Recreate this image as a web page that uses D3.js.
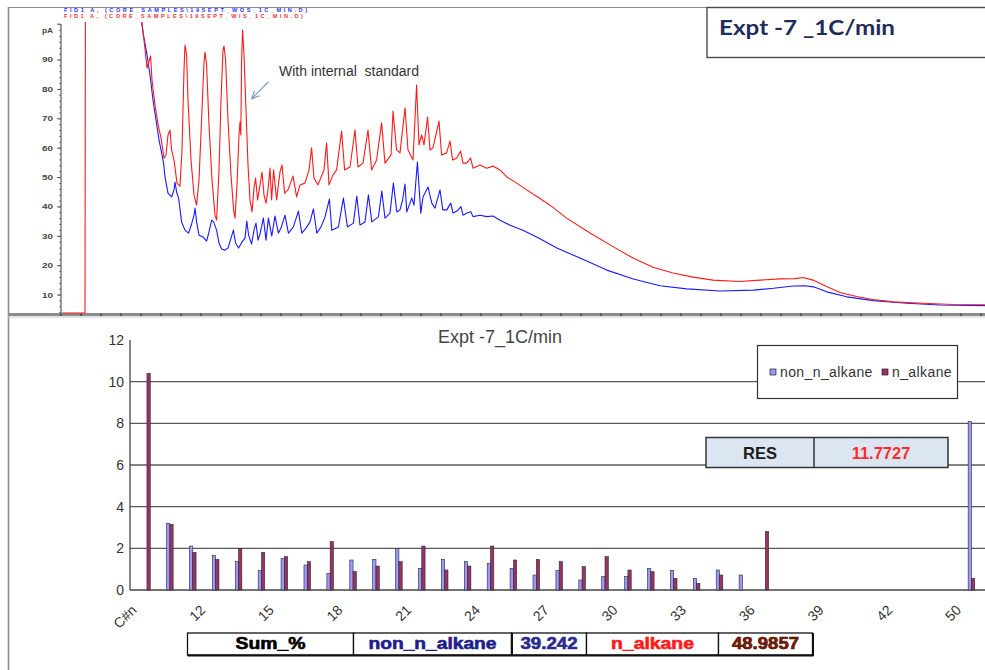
<!DOCTYPE html>
<html><head><meta charset="utf-8">
<script src="https://cdn.jsdelivr.net/npm/d3@7"></script>
<style>
html,body{margin:0;padding:0;background:#fff;}
svg{display:block;font-family:"Liberation Sans",Arial,sans-serif;}
</style></head><body>
<svg id="c" width="985" height="670"></svg>
<script>
// ---------------- Chromatogram data: [retention time (min), signal (pA)] ----------------
const wisTrace = [[0.05,3.9],[1.2,3.9],[1.23,160],[3.85,115],[4.04,102.6],[4.18,95.1],[4.3,87.3],[4.48,91.4],[4.55,83.2],[4.7,74.7],[4.85,68.2],[5.0,63.5],[5.15,56.6],[5.25,57.7],[5.35,64.5],[5.45,66.2],[5.53,59.4],[5.65,56.0],[5.8,48.1],[5.95,47.1],[6.05,59.4],[6.15,86.6],[6.2,95.1],[6.28,91.7],[6.35,76.4],[6.5,56.0],[6.65,44.1],[6.78,40.6],[6.9,49.2],[7.05,73.0],[7.15,89.3],[7.2,92.7],[7.28,88.3],[7.4,67.9],[7.55,49.2],[7.7,37.2],[7.78,35.5],[7.9,52.6],[8.0,76.4],[8.1,93.4],[8.15,94.8],[8.23,90.0],[8.35,69.6],[8.5,50.9],[8.63,39.0],[8.7,36.2],[8.8,47.5],[8.9,64.5],[8.95,68.9],[8.99,64.5],[9.03,90.0],[9.08,100.2],[9.15,91.7],[9.25,73.0],[9.35,54.3],[9.45,42.4],[9.55,38.3],[9.65,46.4],[9.73,49.8],[9.83,42.4],[9.95,47.5],[10.05,51.9],[10.15,44.1],[10.25,41.3],[10.35,45.8],[10.45,53.2],[10.53,42.4],[10.63,52.6],[10.78,42.4],[10.95,51.9],[11.05,54.3],[11.18,44.7],[11.35,45.8],[11.6,50.5],[11.78,43.4],[11.95,47.5],[12.2,48.1],[12.4,52.6],[12.53,60.1],[12.65,49.8],[12.85,47.5],[13.15,52.6],[13.28,61.8],[13.4,47.5],[13.6,50.9],[13.78,52.6],[14.03,65.8],[14.18,52.6],[14.45,53.6],[14.7,66.2],[14.85,53.6],[15.1,54.9],[15.35,66.2],[15.53,52.6],[15.78,56.0],[16.03,68.6],[16.2,54.9],[16.5,57.7],[16.6,72.6],[16.78,59.4],[16.95,58.4],[17.2,73.7],[17.35,59.4],[17.6,56.0],[17.78,81.5],[17.9,61.1],[18.03,64.5],[18.15,61.1],[18.33,70.6],[18.45,59.4],[18.6,60.1],[18.9,69.2],[19.03,57.7],[19.28,58.4],[19.45,62.4],[19.58,56.0],[19.78,56.6],[19.98,59.0],[20.1,54.9],[20.28,54.9],[20.48,56.6],[20.6,53.2],[20.95,54.3],[21.28,53.2],[21.6,53.9],[21.95,52.6],[22.28,50.3],[22.78,48.1],[23.28,45.8],[23.95,42.9],[24.45,40.6],[25.28,36.2],[26.45,31.1],[27.6,26.5],[28.6,22.6],[29.6,19.5],[30.6,17.5],[31.6,16.1],[32.6,15.1],[33.95,14.6],[34.95,15.1],[35.95,15.5],[36.7,15.6],[37.1,16.0],[37.6,15.1],[38.28,12.9],[38.95,10.9],[39.78,9.5],[40.6,8.5],[41.6,7.7],[43.1,7.2],[44.6,6.8],[46.2,6.7]];
const wosTrace = [[3.95,115],[4.04,102.6],[4.15,97.5],[4.28,92.7],[4.45,84.9],[4.6,76.4],[4.75,69.6],[4.9,62.8],[5.03,58.4],[5.13,54.9],[5.2,50.2],[5.35,44.7],[5.53,43.4],[5.65,45.8],[5.7,48.5],[5.78,45.1],[5.88,43.0],[6.03,34.9],[6.2,32.1],[6.38,31.1],[6.53,34.2],[6.65,37.2],[6.7,39.6],[6.78,34.9],[6.9,30.4],[7.1,29.8],[7.28,28.4],[7.4,31.5],[7.53,35.5],[7.63,34.9],[7.78,32.1],[7.9,27.7],[8.03,25.7],[8.2,25.3],[8.35,26.0],[8.5,29.4],[8.62,32.1],[8.73,27.7],[8.88,26.0],[9.05,28.1],[9.2,29.4],[9.29,35.2],[9.38,30.4],[9.53,27.4],[9.65,32.1],[9.75,34.5],[9.85,28.7],[9.95,30.8],[10.12,36.2],[10.25,28.7],[10.37,36.2],[10.54,30.1],[10.7,36.9],[10.87,31.1],[11.0,32.8],[11.2,37.2],[11.37,31.1],[11.62,33.2],[11.87,38.6],[12.04,31.1],[12.25,32.8],[12.45,34.9],[12.62,39.3],[12.79,31.1],[13.0,33.2],[13.2,36.6],[13.42,42.7],[13.54,32.1],[13.87,33.2],[14.12,43.0],[14.32,33.2],[14.62,34.5],[14.79,43.7],[14.95,33.8],[15.2,34.9],[15.37,44.1],[15.54,34.9],[15.87,36.6],[16.04,45.4],[16.2,36.2],[16.45,37.9],[16.62,48.1],[16.79,38.3],[16.95,39.0],[17.08,42.4],[17.2,47.8],[17.29,38.3],[17.54,43.0],[17.65,40.6],[17.82,55.3],[17.99,37.9],[18.1,43.4],[18.35,46.8],[18.54,41.3],[18.7,39.6],[18.95,45.8],[19.09,39.0],[19.29,39.0],[19.49,41.3],[19.6,37.9],[19.8,38.6],[20.0,40.1],[20.1,37.2],[20.3,37.9],[20.49,38.4],[20.6,36.7],[20.95,37.2],[21.29,36.7],[21.6,36.9],[21.95,35.5],[22.45,33.8],[23.1,32.1],[23.95,29.2],[24.79,26.0],[25.95,22.6],[27.29,18.5],[28.62,15.5],[29.95,13.2],[31.29,12.1],[32.95,11.4],[34.62,11.7],[35.62,12.3],[36.62,13.1],[37.2,13.2],[37.62,12.8],[38.29,11.1],[39.29,9.4],[40.62,8.1],[42.29,7.2],[43.95,6.6],[46.2,6.4]];
const chromYTicks = [10,20,30,40,50,60,70,80,90];
const chromUnit = "pA";
const chromHeaders = ["FID1 A, (CORE_SAMPLES\\19SEPT_WOS_1C_MIN.D)", "FID1 A, (CORE_SAMPLES\\19SEPT_WIS_1C_MIN.D)"];
const annotationText = "With internal  standard";
const boxTitle = "Expt -7 _1C/min";

// ---------------- Bar chart data ----------------
const carbonLabels = ["C#n","10","11","12","13","14","15","16","17","18","19","20","21","22","23","24","25","26","27","28","29","30","31","32","33","34","35","36","37","38","39","40","41","42","43","44","50"];
const nonNAlkane = [0,3.2,2.11,1.65,1.36,0.93,1.52,1.2,0.8,1.44,1.47,2.0,1.04,1.47,1.36,1.28,1.04,0.72,0.93,0.48,0.64,0.64,1.04,0.93,0.56,0.96,0.72,0,0,0,0,0,0,0,0,0,8.08];
const nAlkane    = [10.4,3.15,1.81,1.47,2.0,1.81,1.6,1.36,2.32,0.88,1.15,1.36,2.11,0.96,1.15,2.11,1.44,1.47,1.36,1.12,1.6,0.96,0.88,0.56,0.32,0.72,0,2.8,0,0,0,0,0,0,0,0,0.56];
const barYTicks = [0,2,4,6,8,10,12];
const seriesNames = ["non_n_alkane","n_alkane"];
const barTitle = "Expt -7_1C/min";
const resLabels = ["RES","11.7727"];
const sumLabels = ["Sum_%","non_n_alkane","39.242","n_alkane","48.9857"];

const svg = d3.select("#c");

// ---------------- frames ----------------
svg.append("line").attr("x1",8.5).attr("x2",8.5).attr("y1",7).attr("y2",670).attr("stroke","#8a8a8a").attr("stroke-width",1.6);
svg.append("line").attr("x1",8).attr("x2",985).attr("y1",7.5).attr("y2",7.5).attr("stroke","#8a8a8a").attr("stroke-width",1.2);

// ---------------- chromatogram ----------------
const xC = d3.scaleLinear().domain([0,46.2]).range([61,985]);
const yC = d3.scaleLinear().domain([3.9,102.2]).range([313,24.2]);

svg.append("defs").append("clipPath").attr("id","clipC")
  .append("rect").attr("x",61).attr("y",22).attr("width",924).attr("height",292);

// x axis band
svg.append("line").attr("x1",8).attr("x2",985).attr("y1",314.5).attr("y2",314.5).attr("stroke","#8c8c8c").attr("stroke-width",3);
svg.append("line").attr("x1",8).attr("x2",985).attr("y1",317).attr("y2",317).attr("stroke","#c8c8c8").attr("stroke-width",1);
svg.append("g").selectAll("line").data(d3.range(0,47,1)).join("line")
  .attr("x1",d=>xC(d)).attr("x2",d=>xC(d)).attr("y1",313.5).attr("y2",316)
  .attr("stroke","#333").attr("stroke-width",1.2);

// y axis
const yAx = svg.append("g");
yAx.append("line").attr("x1",61).attr("x2",61).attr("y1",yC(102.2)).attr("y2",yC(3.9)).attr("stroke","#666").attr("stroke-width",1.3);
yAx.selectAll("line.minor").data(d3.range(4,103,2)).join("line").attr("class","minor")
  .attr("x1",59).attr("x2",61).attr("y1",d=>yC(d)).attr("y2",d=>yC(d)).attr("stroke","#666").attr("stroke-width",0.9);
yAx.selectAll("line.major").data(chromYTicks).join("line").attr("class","major")
  .attr("x1",57).attr("x2",61).attr("y1",d=>yC(d)).attr("y2",d=>yC(d)).attr("stroke","#555").attr("stroke-width",1);
yAx.selectAll("text").data(chromYTicks).join("text")
  .attr("x",53).attr("y",d=>yC(d)).attr("dy","0.35em").attr("text-anchor","end")
  .attr("font-size",7).attr("font-weight","bold").attr("fill","#444")
  .attr("textLength",11).attr("lengthAdjust","spacingAndGlyphs").text(d=>d);
yAx.append("text").attr("x",53).attr("y",yC(100.2)).attr("dy","0.35em").attr("text-anchor","end")
  .attr("font-size",7).attr("font-weight","bold").attr("fill","#444")
  .attr("textLength",11).attr("lengthAdjust","spacingAndGlyphs").text(chromUnit);
yAx.append("line").attr("x1",57).attr("x2",61).attr("y1",yC(102.2)).attr("y2",yC(102.2)).attr("stroke","#555");

// headers
svg.append("text").attr("x",64).attr("y",12).attr("font-size",5.6).attr("font-weight","bold").attr("fill","#3030ff")
  .attr("textLength",243).attr("lengthAdjust","spacing").text(chromHeaders[0]);
svg.append("text").attr("x",64).attr("y",18).attr("font-size",5.6).attr("font-weight","bold").attr("fill","#ff3030")
  .attr("textLength",239).attr("lengthAdjust","spacing").text(chromHeaders[1]);

const lineC = d3.line().x(d=>xC(d[0])).y(d=>yC(d[1]));
const gC = svg.append("g").attr("clip-path","url(#clipC)");
gC.append("path").datum(wosTrace).attr("d",lineC).attr("fill","none").attr("stroke","#1a1aff").attr("stroke-width",1.1).attr("stroke-linejoin","round");
gC.append("path").datum(wisTrace).attr("d",lineC).attr("fill","none").attr("stroke","#ff1a1a").attr("stroke-width",1.1).attr("stroke-linejoin","round");

// annotation
svg.append("text").attr("x",xC(10.9)).attr("y",yC(84.6)).attr("font-size",14).attr("fill","#333").attr("xml:space","preserve").style("white-space","pre").text(annotationText);
const ax1 = xC(10.37), ay1 = yC(82.6), ax2 = xC(9.54), ay2 = yC(76.9);
svg.append("line").attr("x1",ax1).attr("y1",ay1).attr("x2",ax2).attr("y2",ay2).attr("stroke","#6d93c8").attr("stroke-width",1.1);
{
  const ang = Math.atan2(ay2-ay1, ax2-ax1), L=8, a=0.45;
  const p1=[ax2-L*Math.cos(ang-a), ay2-L*Math.sin(ang-a)], p2=[ax2-L*Math.cos(ang+a), ay2-L*Math.sin(ang+a)];
  svg.append("path").attr("d",`M${p1}L${ax2},${ay2}L${p2}`).attr("fill","none").attr("stroke","#6d93c8").attr("stroke-width",1.1);
}

// title box
svg.append("rect").attr("x",707).attr("y",7.5).attr("width",290).attr("height",50).attr("fill","#fff").attr("stroke","#4a4a4a").attr("stroke-width",1.4);
svg.append("text").attr("x",719).attr("y",35).attr("font-family","Lato, 'Open Sans', sans-serif").attr("font-weight","bold")
  .attr("font-size",21).attr("fill","#1f2d5c").attr("textLength",176).attr("lengthAdjust","spacingAndGlyphs").text(boxTitle);

// ---------------- bar chart ----------------
const yB = d3.scaleLinear().domain([0,12]).range([590,340]);
const xB = d3.scaleBand().domain(carbonLabels).range([135.5,982.9]).paddingInner(0.712).paddingOuter(0.356);
const xS = d3.scaleBand().domain(seriesNames).range([0,xB.bandwidth()]);

const gB = svg.append("g");
gB.selectAll("line.grid").data(barYTicks.filter(d=>d>0 && d<12)).join("line").attr("class","grid")
  .attr("x1",130).attr("x2",985).attr("y1",d=>yB(d)).attr("y2",d=>yB(d)).attr("stroke","#5a5a5a").attr("stroke-width",1.3);
gB.append("line").attr("x1",130).attr("x2",985).attr("y1",yB(0)).attr("y2",yB(0)).attr("stroke","#444").attr("stroke-width",1.4);
gB.append("line").attr("x1",130).attr("x2",130).attr("y1",yB(0)).attr("y2",yB(12)).attr("stroke","#444").attr("stroke-width",1.3);
gB.selectAll("text.yl").data(barYTicks).join("text").attr("class","yl")
  .attr("x",124).attr("y",d=>yB(d)).attr("dy","0.36em").attr("text-anchor","end")
  .attr("font-size",14).attr("fill","#333").text(d=>d);

gB.append("text").attr("x",500).attr("y",343).attr("text-anchor","middle").attr("font-size",18).attr("fill","#444").text(barTitle);

const series = [{name:seriesNames[0], vals:nonNAlkane, fill:"#9999ff"},{name:seriesNames[1], vals:nAlkane, fill:"#993366"}];
series.forEach(s=>{
  gB.append("g").selectAll("rect").data(carbonLabels.map((c,i)=>({c, v:s.vals[i]})).filter(d=>d.v>0)).join("rect")
    .attr("x",d=>xB(d.c)+xS(s.name)).attr("width",xS.bandwidth())
    .attr("y",d=>yB(d.v)).attr("height",d=>yB(0)-yB(d.v))
    .attr("fill",s.fill).attr("stroke","#2a2a2a").attr("stroke-width",0.6);
});

gB.selectAll("text.xl").data(carbonLabels.filter((c,i)=>i%3===0)).join("text").attr("class","xl")
  .attr("transform",d=>`translate(${xB(d)+xB.bandwidth()/2-9.5},611) rotate(-45)`)
  .attr("text-anchor","end").attr("font-size",14).attr("fill","#333").text(d=>d);

// legend
gB.append("rect").attr("x",757.5).attr("y",345.5).attr("width",200).attr("height",53).attr("fill","#fff").attr("stroke","#333").attr("stroke-width",1.2);
const legX = [770, 882];
series.forEach((s,i)=>{
  gB.append("rect").attr("x",legX[i]).attr("y",369).attr("width",6).attr("height",6).attr("fill",s.fill).attr("stroke","#222").attr("stroke-width",0.7);
  gB.append("text").attr("x",legX[i]+10).attr("y",377).attr("font-size",14).attr("letter-spacing",0.4).attr("fill","#333").text(s.name);
});

// RES box
gB.append("rect").attr("x",706).attr("y",437.5).attr("width",242).attr("height",30).attr("fill","#dce6f2").attr("stroke","#333").attr("stroke-width",1.5);
gB.append("line").attr("x1",814).attr("x2",814).attr("y1",437.5).attr("y2",467.5).attr("stroke","#333").attr("stroke-width",1.5);
gB.append("text").attr("x",760).attr("y",459).attr("text-anchor","middle").attr("font-size",16.5).attr("font-weight","bold").attr("fill","#1a1a1a").text(resLabels[0]);
gB.append("text").attr("x",881).attr("y",459).attr("text-anchor","middle").attr("font-size",16.5).attr("font-weight","bold").attr("fill","#ff2a2a").text(resLabels[1]);

// Sum table
const cellX = [187.5,353.5,511.5,586.5,718.5,812.5];
const cellColor = ["#000","#1e1e8c","#2b2b8f","#ff1a1a","#8b1a00"];
const cellTL = [70,128,57,83,67];
const gT = gB.append("g");
sumLabels.forEach((t,i)=>{
  gT.append("rect").attr("x",cellX[i]).attr("y",633).attr("width",cellX[i+1]-cellX[i]).attr("height",22)
    .attr("fill","#fff").attr("stroke","#111").attr("stroke-width",1.3);
  gT.append("text").attr("x",(cellX[i]+cellX[i+1])/2).attr("y",648.5).attr("text-anchor","middle")
    .attr("font-size",16).attr("font-weight","bold").attr("fill",cellColor[i])
    .attr("stroke",i===4?"#3a0a00":cellColor[i]).attr("stroke-width",0.6)
    .attr("textLength",cellTL[i]).attr("lengthAdjust","spacingAndGlyphs").text(t);
});
gT.append("line").attr("x1",cellX[0]).attr("x2",cellX[5]+1).attr("y1",655.5).attr("y2",655.5).attr("stroke","#111").attr("stroke-width",2);
gT.append("line").attr("x1",cellX[5]+0.5).attr("x2",cellX[5]+0.5).attr("y1",633).attr("y2",656).attr("stroke","#111").attr("stroke-width",2);
gT.append("line").attr("x1",cellX[2]+0.5).attr("x2",cellX[2]+0.5).attr("y1",633).attr("y2",656).attr("stroke","#111").attr("stroke-width",2);
</script>
</body></html>
